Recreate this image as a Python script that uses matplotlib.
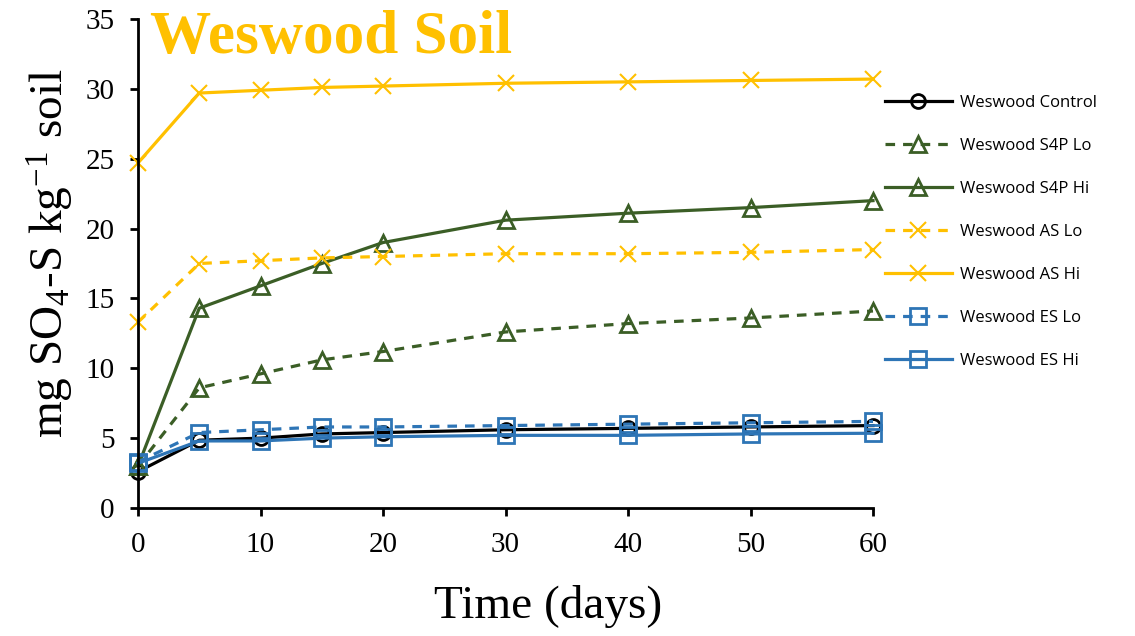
import matplotlib
matplotlib.use("Agg")
import matplotlib.pyplot as plt

plt.rcParams["mathtext.fontset"] = "custom"
plt.rcParams["mathtext.rm"] = "Liberation Serif"
plt.rcParams["mathtext.it"] = "Liberation Serif:italic"
plt.rcParams["mathtext.bf"] = "Liberation Serif:bold"

days = [0, 5, 10, 15, 20, 30, 40, 50, 60]
control = [2.6, 4.85, 5.0, 5.3, 5.4, 5.6, 5.7, 5.8, 5.9]
s4p_lo = [3.0, 8.6, 9.6, 10.6, 11.2, 12.6, 13.2, 13.6, 14.1]
s4p_hi = [3.0, 14.3, 15.9, 17.5, 19.0, 20.6, 21.1, 21.5, 22.0]
as_lo = [13.3, 17.5, 17.7, 17.9, 18.0, 18.2, 18.2, 18.3, 18.5]
as_hi = [24.7, 29.7, 29.9, 30.1, 30.2, 30.4, 30.5, 30.6, 30.7]
es_lo = [3.3, 5.4, 5.6, 5.8, 5.8, 5.9, 6.0, 6.1, 6.2]
es_hi = [3.2, 4.8, 4.8, 5.0, 5.1, 5.2, 5.2, 5.3, 5.35]

labels = ["Weswood Control", "Weswood S4P Lo", "Weswood S4P Hi",
          "Weswood AS Lo", "Weswood AS Hi", "Weswood ES Lo", "Weswood ES Hi"]

black = "#000000"
green = "#3B5E26"
gold = "#FFC000"
blue = "#2E75B6"

fig = plt.figure(figsize=(11.35, 6.36), dpi=100)
ax = fig.add_axes([138/1135, 1-508/636, (873-138)/1135, (508-19)/636])

lw = 2.3
series = [
    (control, black, "-", "o", 10),
    (s4p_lo, green, (0, (3, 2.5)), "^", 12),
    (s4p_hi, green, "-", "^", 12),
    (as_lo, gold, (0, (3, 2.5)), "x", 12),
    (as_hi, gold, "-", "x", 12),
    (es_lo, blue, (0, (3, 2.5)), "s", 11),
    (es_hi, blue, "-", "s", 11),
]
for (vals, col, ls, mk, ms), lab in zip(series, labels):
    if mk == "x":
        ax.plot(days, vals, color=col, linestyle=ls, linewidth=lw, marker=mk,
                markersize=ms, markeredgewidth=1.5, label=lab, clip_on=False)
    else:
        ax.plot(days, vals, color=col, linestyle=ls, linewidth=lw, marker=mk,
                markersize=ms, markerfacecolor="none", markeredgecolor=col,
                markeredgewidth=2, label=lab, clip_on=False)

ax.set_xlim(0, 60)
ax.set_ylim(0, 35)
ax.set_xticks([0, 10, 20, 30, 40, 50, 60])
ax.set_yticks(range(0, 36, 5))
for s in ["top", "right"]:
    ax.spines[s].set_visible(False)
for s in ["left", "bottom"]:
    ax.spines[s].set_linewidth(2)
ax.tick_params(direction="out", length=6, width=2, labelsize=21, pad=11)
for t in ax.get_xticklabels() + ax.get_yticklabels():
    t.set_fontfamily("Liberation Serif")

ax.set_xlabel("Time (days)", fontsize=34, fontfamily="Liberation Serif")
ax.xaxis.set_label_coords(0.558, -(607-508)/489, transform=ax.transAxes)
ax.xaxis.label.set_va("center")
ax.set_ylabel(r"mg SO$_4$-S kg$^{-1}$ soil", fontsize=34, fontfamily="Liberation Serif")
ax.yaxis.set_label_coords(-(138-50)/735, 0.521, transform=ax.transAxes)
ax.yaxis.label.set_va("center")

ax.text(150/1135, 1-38/636, "Weswood Soil", transform=fig.transFigure, fontsize=44,
        fontweight="bold", color=gold, fontfamily="Liberation Serif", va="center", ha="left")

leg = ax.legend(loc="upper left", bbox_to_anchor=(870/1135, 1-80/636), bbox_transform=fig.transFigure,
                frameon=False, prop={"family": "Open Sans", "size": 12}, handlelength=4.0,
                labelspacing=1.62, handletextpad=0.5)

fig.savefig("out.png", dpi=100)
